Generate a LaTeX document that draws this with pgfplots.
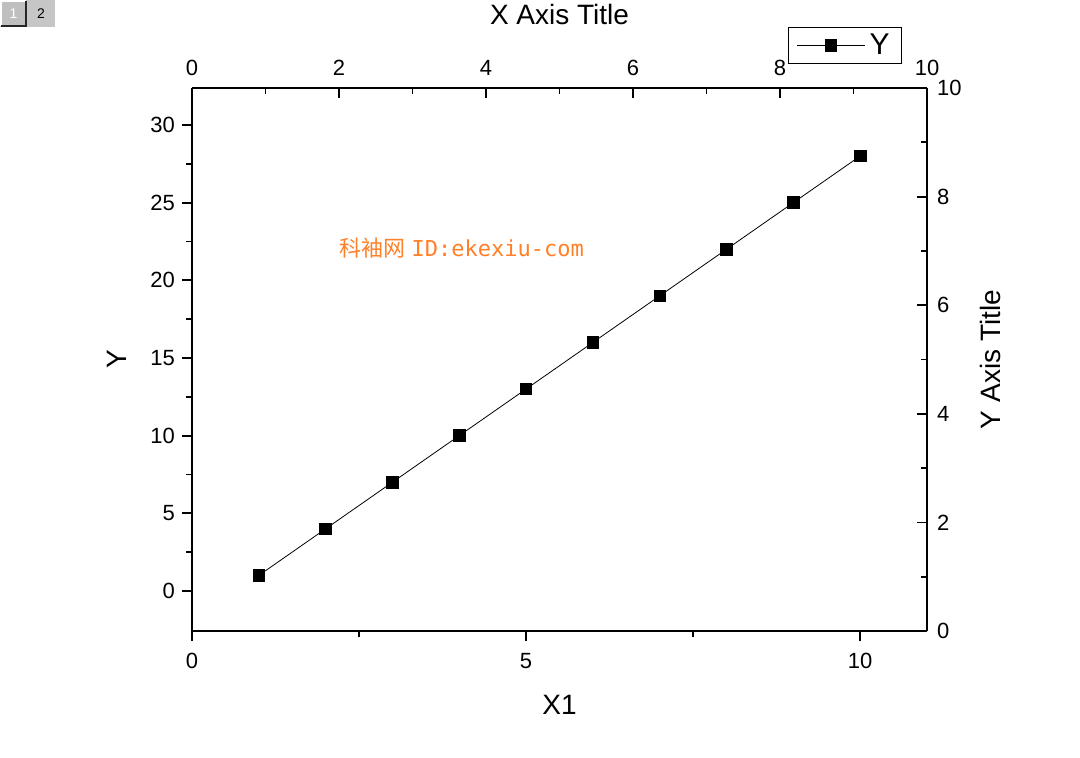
\documentclass[border=0pt]{standalone}
\usepackage{fontspec}
\setmainfont{Liberation Sans}
\newfontfamily\cjk{Noto Sans CJK SC}
\newfontfamily\wmono{DejaVu Sans Mono}
\usepackage{pgfplots}
\pgfplotsset{compat=1.18}
\definecolor{wmorange}{RGB}{255,128,40}
\pgfplotstableread{
x y
1 1
2 4
3 7
4 10
5 13
6 16
7 19
8 22
9 25
10 28
}\datatable
\begin{document}
\begin{tikzpicture}[x=1pt,y=1pt]
\path[use as bounding box] (0,0) rectangle (540,378.5);
% page tabs
\fill[gray!50] (0,365) rectangle (13.5,378.5);
\draw[white,line width=0.8pt] (0.4,365.4) -- (0.4,378.1) -- (13.1,378.1);
\draw[gray!30!black,line width=0.8pt] (0.4,365.4) -- (13.1,365.4) -- (13.1,378.1);
\node[font=\fontsize{7}{7}\selectfont, text=white] at (6.75,371.75) {1};
\fill[gray!45] (13.5,365) rectangle (27.5,378.5);
\node[font=\fontsize{7}{7}\selectfont] at (20.5,371.75) {2};
\begin{axis}[
  at={(96pt,63pt)}, anchor=south west,
  scale only axis, width=367.5pt, height=271.5pt,
  xmin=0, xmax=11, ymin=-2.58, ymax=32.38,
  axis x line*=bottom, axis y line*=left,
  axis line style={line width=1pt, -},
  tick align=outside,
  major tick length=5pt, minor tick length=3pt,
  tick style={line width=0.9pt, black},
  xtick={0,5,10}, ytick={0,5,...,30},
  minor tick num=1,
  /pgf/number format/assume math mode=true,
  ticklabel style={font=\fontsize{11}{11}\selectfont},
  xticklabel style={yshift=-2.5pt},
  xlabel={X1}, ylabel={Y},
  label style={font=\fontsize{14}{14}\selectfont},
  xlabel style={at={(axis description cs:0.5,-0.136)}, anchor=center},
  ylabel style={at={(axis description cs:-0.102,0.5)}, anchor=center},
  legend style={at={(axis description cs:0.966,1.112)}, anchor=north east,
    draw=black, line width=0.5pt, font=\fontsize{15}{15}\selectfont,
    inner xsep=4pt, inner ysep=1pt, row sep=0pt},
  legend image code/.code={\draw[mark repeat=2,mark phase=2,#1] plot coordinates {(0cm,0cm) (0.6cm,0cm) (1.2cm,0cm)};},
  clip=false,
]
\addplot[black, line width=0.4pt, mark=square*, mark size=2.9pt, mark options={solid, fill=black}] table[x=x,y=y] {\datatable};
\addlegendentry{Y}
\node[text=wmorange, font=\fontsize{11}{11}\selectfont] at (axis description cs:0.367,0.705) {{\cjk 科袖网} {\wmono ID:ekexiu-com}};
\end{axis}
\begin{axis}[
  at={(96pt,63pt)}, anchor=south west,
  scale only axis, width=367.5pt, height=271.5pt,
  xmin=0, xmax=10, ymin=0, ymax=10,
  axis x line*=top, axis y line*=right,
  axis line style={line width=1pt, -},
  tick align=inside,
  major tick length=5pt, minor tick length=3pt,
  tick style={line width=0.9pt, black},
  xtick={0,2,...,10}, ytick={0,2,...,10},
  minor tick num=1,
  /pgf/number format/assume math mode=true,
  ticklabel style={font=\fontsize{11}{11}\selectfont},
  xticklabel style={yshift=2.5pt},
  yticklabel style={xshift=1.5pt},
  xlabel={X Axis Title}, ylabel={Y Axis Title},
  label style={font=\fontsize{14}{14}\selectfont},
  xlabel style={at={(axis description cs:0.5,1.136)}, anchor=center},
  ylabel style={at={(axis description cs:1.086,0.5)}, anchor=center, rotate=0},
]
\end{axis}
\end{tikzpicture}
\end{document}
